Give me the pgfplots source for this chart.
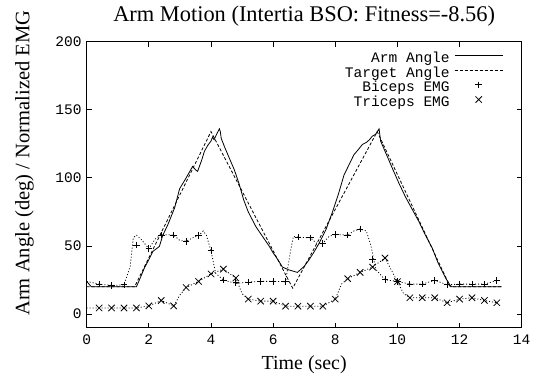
\documentclass[border=0pt]{standalone}
\usepackage{fontspec}
\setmainfont{Liberation Serif}
\newfontfamily\cour{Liberation Mono}
\usepackage{pgfplots}
\pgfplotsset{compat=1.18}

\begin{document}
\begin{tikzpicture}
\path[use as bounding box] (-86.7bp,-48.3bp) rectangle (458.3bp,327.7bp);
\begin{axis}[
  at={(0,0)}, anchor=south west,
  scale only axis, width=435bp, height=286bp,
  xmin=0, xmax=14, ymin=-10, ymax=200,
  xtick={0,2,...,14}, ytick={0,50,...,200},
  tick align=inside, major tick length=5bp,
  axis line style={line width=1.1bp},
  every tick/.style={black, line width=0.8bp},
  /pgf/number format/assume math mode=true,
  tick label style={font=\cour\fontsize{14.6}{16}\selectfont},
  xticklabel style={yshift=-4bp},
  yticklabel style={xshift=-1.5bp},
  title={Arm Motion (Intertia BSO: Fitness=-8.56)},
  title style={font=\fontsize{22.5}{24}\selectfont, at={(0.5,1)}, anchor=base, yshift=14bp},
  xlabel={Time (sec)},
  xlabel style={font=\fontsize{20}{22}\selectfont, at={(0.5,0)}, anchor=base, yshift=-42bp},
  ylabel={Arm Angle (deg) / Normalized EMG},
  ylabel style={font=\fontsize{20.6}{22}\selectfont, at={(-0.1315,0.575)}, anchor=base, rotate=0},
  legend style={draw=none, fill=none, at={(0.9577,0.965)}, anchor=north east,
    font=\cour\fontsize{14.6}{16}\selectfont, inner sep=0pt, row sep=0pt, column sep=0bp,
    nodes={inner sep=0pt, text height=10.5bp, text depth=4.2bp}},
  legend cell align=right, legend plot pos=right,
  legend image code/.code={\path[draw=none,fill=none] (0bp,3.8bp) -- (53bp,3.8bp);
    \draw[mark repeat=2,mark phase=2,#1] plot coordinates {(5bp,3.8bp) (29bp,3.8bp) (53bp,3.8bp)};},
]
% Arm angle
\addplot[black, line width=0.8bp, mark=none] coordinates {
(0,24) (0.15,20) (1.6,20) (1.75,28) (1.86,34) (2.0,40) (2.13,46) (2.34,49.7) (2.45,58) (2.6,65)
(2.83,78) (2.99,92) (3.2,100) (3.3,104) (3.41,108.5) (3.5,106) (3.57,104.8) (3.7,113) (3.79,119.6)
(3.9,124) (4.0,127) (4.05,130) (4.1,128) (4.2,133) (4.27,136) (4.3,134) (4.33,129) (4.45,122)
(4.6,114) (4.75,106) (4.9,96) (5.05,84) (5.2,75) (5.45,64) (5.6,59) (5.87,50) (6.0,45) (6.15,40)
(6.3,34.5) (6.5,32.5) (6.78,30.6) (7.0,35) (7.16,40) (7.3,45) (7.48,52) (7.7,62) (7.91,75) (8.1,88)
(8.28,102) (8.45,110) (8.6,117) (8.75,121) (8.87,124.5) (9.0,126) (9.1,128) (9.19,130.6) (9.3,132)
(9.41,136) (9.46,127) (9.65,117) (9.83,107.4) (10.05,96) (10.26,86) (10.45,78) (10.69,68) (10.9,58)
(11.12,48.5) (11.3,38) (11.55,26.5) (11.7,21) (11.76,20) (13.35,20)
};
\addlegendentry{Arm Angle}
% Target angle
\addplot[black, line width=0.8bp, dash pattern=on 3bp off 2bp, mark=none] coordinates {
(0,20) (1.54,20) (4.0,134) (6.63,19) (9.35,134) (11.7,20) (13.35,20)
};
\addlegendentry{Target Angle}
% Biceps EMG markers
\addplot[black, line width=0.8bp, only marks, mark=+, mark size=3.3bp] coordinates {
(0.4,22) (0.8,21) (1.2,21.5) (1.6,50.7) (2.0,48) (2.4,58) (2.8,58) (3.2,53.5) (3.6,57.5) (4.0,46.5)
(4.4,25) (4.8,23) (5.2,23.5) (5.6,24) (6.0,24) (6.4,23.8) (6.8,56.5) (7.2,56) (7.6,52) (8.0,58.5)
(8.4,58) (8.8,62.5) (9.2,40) (9.6,25.2) (10.0,24) (10.4,22) (10.8,22) (11.2,24.8) (11.6,21.5)
(12.0,22) (12.4,22) (12.8,22) (13.2,24.6)
};
\addlegendentry{Biceps EMG}
% Triceps EMG markers
\addplot[black, line width=0.8bp, only marks, mark=x, mark size=4.5bp] coordinates {
(0.4,4.5) (0.8,4.5) (1.2,4.5) (1.6,4.5) (2.0,6) (2.4,10) (2.8,6) (3.2,19.5) (3.6,24) (4.0,29.5)
(4.4,33) (4.8,26.5) (5.2,11) (5.6,9.5) (6.0,9.5) (6.4,5.8) (6.8,5.8) (7.2,5.8) (7.6,5.8) (8.0,11)
(8.4,26) (8.8,30.6) (9.2,34.5) (9.6,41.2) (10.0,23.8) (10.4,12) (10.8,12) (11.2,12) (11.6,8.3)
(12.0,11) (12.4,12) (12.8,10) (13.2,8.3)
};
\addlegendentry{Triceps EMG}
% Biceps EMG trace (dotted)
\addplot[black, line width=0.8bp, dash pattern=on 1bp off 2bp, mark=none, forget plot] coordinates {
(0,24) (0.4,22) (0.8,21) (1.2,21.5) (1.4,35) (1.5,56) (1.6,58) (1.75,55) (2.0,48) (2.2,55) (2.4,58.5)
(2.8,58) (3.0,54) (3.2,53.5) (3.5,57) (3.6,57.5) (3.75,61) (3.85,58) (4.0,46.5) (4.15,30) (4.4,25)
(4.8,22.5) (5.2,23.5) (5.6,24) (6.0,24) (6.4,23.8) (6.55,45) (6.65,57) (6.8,56.5) (7.2,56) (7.4,52)
(7.6,52) (7.8,57) (8.0,58.5) (8.4,58) (8.6,61) (8.8,62.5) (9.0,61) (9.15,50) (9.3,33) (9.6,25.2)
(10.0,24) (10.4,22) (10.8,22) (11.2,24.8) (11.6,21.5) (12.0,22) (12.4,22) (12.8,22) (13.2,24.6)
};
% Triceps EMG trace (dotted)
\addplot[black, line width=0.8bp, dash pattern=on 1bp off 2bp, mark=none, forget plot] coordinates {
(0,4.5) (0.4,4.5) (0.8,4.5) (1.2,4.5) (1.6,4.5) (2.0,6) (2.4,10) (2.8,6) (3.0,14) (3.2,19.5) (3.6,24)
(4.0,29.5) (4.4,33) (4.8,26.5) (5.0,15) (5.2,11) (5.6,9.5) (6.0,9.5) (6.4,5.8) (6.8,5.8) (7.2,5.8)
(7.6,5.8) (8.0,11) (8.2,22) (8.4,26) (8.8,30.6) (9.2,34.5) (9.6,41.2) (10.0,23.8) (10.2,15) (10.4,12)
(10.8,12) (11.2,12) (11.6,8.3) (12.0,11) (12.4,12) (12.8,10) (13.2,8.3)
};
\end{axis}
\end{tikzpicture}
\end{document}
